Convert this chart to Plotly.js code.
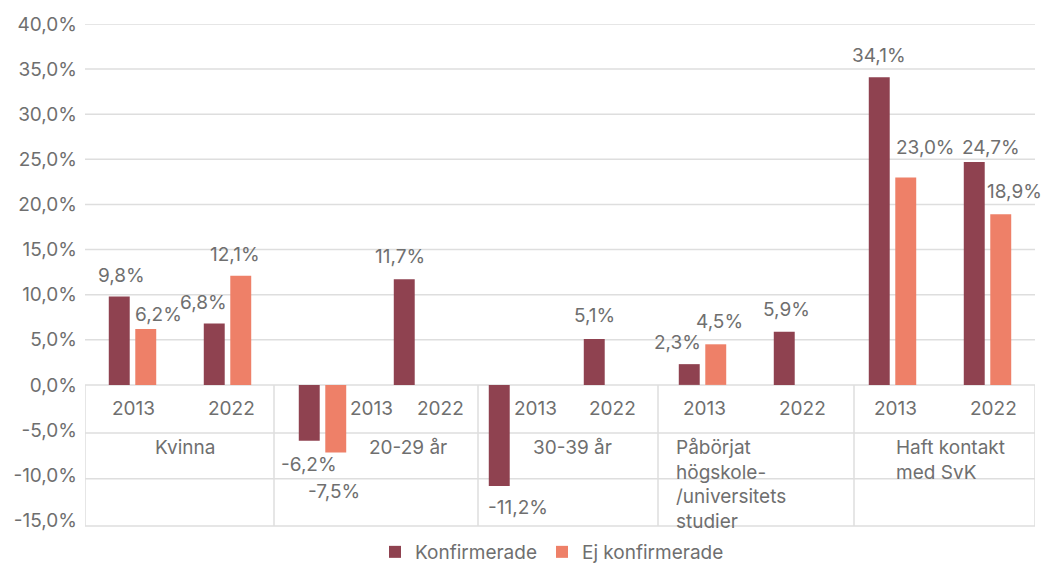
<!DOCTYPE html>
<html>
<head>
<meta charset="utf-8">
<script src="https://cdn.plot.ly/plotly-3.0.1.min.js"></script>
<style>html,body{margin:0;padding:0;background:#fff;}#chart{width:1047px;height:571px;}</style>
</head>
<body>
<div id="chart"></div>
<script>
// ---- data ----
const categories = ['Kvinna', '20-29 år', '30-39 år', 'Påbörjat<br>högskole-<br>/universitets<br>studier', 'Haft kontakt<br>med SvK'];
const years = ['2013', '2022'];
const konfirmerade = [9.8, 6.8, -6.2, 11.7, -11.2, 5.1, 2.3, 5.9, 34.1, 24.7];
const ejKonfirmerade = [6.2, 12.1, -7.5, null, null, null, 4.5, null, 23.0, 18.9];
const seriesNames = ['Konfirmerade', 'Ej konfirmerade'];
const yTicks = [-15, -10, -5, 0, 5, 10, 15, 20, 25, 30, 35, 40];

// ---- style / placement ----
const colors = ['#8F4250', '#EE8068'];
const textColor = '#6f6f6f';
const gridColor = '#dedede';
const FONT = 'Inter, "Open Sans", sans-serif';
const FS = 19;
const yMin = -15.75, yMax = 40;
const pxPerUnitX = 95;
// label nudges (pixels, screen coordinates: dx right, dy down) relative to bar end
const labelNudge = [
  [[2.5,-21],[-10.5,-21],[0,24],[-4,-23],[19,22],[0,-23],[-12,-22],[2,-22],[0,-22],[16.5,-15]],
  [[13,-14],[-6,-21],[-2,39],null,null,null,[3.5,-22.7],null,[20,-30],[14,-22.6]]
];
const yearShift = [1, 4, 49, 23, 23, 5, 2, 5, 3, 6];
const catPlace = [
  {anchor:'center', dx:5}, {anchor:'center', dx:38}, {anchor:'center', dx:12},
  {anchor:'left', dx:-76}, {anchor:'left', dx:-46}
];
const dividerNudgePx = [0, -1, 13, 3, 9, 0];
const tableRowY = [-5.32, -10.4, -15.63];

// ---- build ----
const keys = [];
categories.forEach(c => years.forEach(y => keys.push(c.replace(/<br>/g,' ') + ' ' + y)));
const series = [konfirmerade, ejKonfirmerade];

const fmt = v => (v < 0 ? '-' : '') + Math.abs(v).toFixed(1).replace('.', ',') + '%';

const traces = series.map((vals, s) => ({
  type: 'bar', name: seriesNames[s], x: keys, y: vals,
  marker: {color: colors[s], line: {width: 0}},
  hoverinfo: 'skip'
}));

const shapes = [];
// gridlines for non-negative ticks
yTicks.filter(v => v >= 0).forEach(v => shapes.push({
  type:'line', xref:'paper', x0:0, x1:1, yref:'y', y0:v, y1:v,
  line:{color:gridColor, width:1.5}, layer:'below'
}));
// table rows
tableRowY.forEach(v => shapes.push({
  type:'line', xref:'paper', x0:0, x1:1, yref:'y', y0:v, y1:v,
  line:{color:gridColor, width:1.5}, layer:'below'
}));
// table dividers
for (let k = 0; k <= categories.length; k++) {
  const xv = k * years.length - 0.5 + dividerNudgePx[k] / pxPerUnitX;
  shapes.push({type:'line', xref:'x', x0:xv, x1:xv, yref:'y', y0:0, y1:tableRowY[2],
    line:{color:gridColor, width:1.5}, layer:'below'});
}

const annotations = [];
// data labels
series.forEach((vals, s) => vals.forEach((v, i) => {
  if (v === null) return;
  const n = labelNudge[s][i] || [0, v >= 0 ? -22 : 22];
  const barOff = s === 0 ? -13.25 : 13.25;
  annotations.push({
    x: keys[i], y: v, xref:'x', yref:'y', text: fmt(v), showarrow:false,
    xanchor:'center', yanchor:'middle', xshift: barOff + n[0], yshift: -n[1],
    font:{family:FONT, size:FS, color:textColor}
  });
}));
// year labels
keys.forEach((k, i) => annotations.push({
  x: k, y: 0, xref:'x', yref:'y', text: years[i % years.length], showarrow:false,
  xanchor:'center', yanchor:'middle', xshift: yearShift[i], yshift: -23.5,
  font:{family:FONT, size:FS, color:textColor}
}));
// category labels
categories.forEach((c, k) => annotations.push({
  x: k * years.length + 0.5, y: 0, xref:'x', yref:'y', text: c, showarrow:false,
  xanchor: catPlace[k].anchor, yanchor:'top', align:'left',
  xshift: catPlace[k].dx, yshift: -49,
  font:{family:FONT, size:FS, color:textColor}
}));

const layout = {
  width:1047, height:571,
  margin:{l:85, r:12, t:24, b:44, pad:0, autoexpand:false},
  paper_bgcolor:'#ffffff', plot_bgcolor:'#ffffff',
  separators: ', ',
  barmode:'group', bargap:0.442, bargroupgap:0.21,
  font:{family:FONT, size:FS, color:textColor},
  xaxis:{type:'category', range:[-0.5, keys.length - 0.5], showticklabels:false,
    showgrid:false, zeroline:false, showline:false, ticks:'', fixedrange:true},
  yaxis:{range:[yMin, yMax], tickmode:'array', tickvals:yTicks, ticktext:yTicks.map(fmt),
    showgrid:false, zeroline:false, showline:false, ticks:'', ticklabelstandoff:7,
    tickfont:{family:FONT, size:FS, color:textColor}, fixedrange:true, automargin:false},
  showlegend:true,
  legend:{orientation:'h', x:0.4916, xanchor:'center', yref:'container', y:0, yanchor:'bottom',
    font:{family:FONT, size:FS, color:textColor}, itemwidth:30, traceorder:'normal',
    bgcolor:'rgba(0,0,0,0)'},
  shapes: shapes,
  annotations: annotations
};

Plotly.newPlot('chart', traces, layout, {displayModeBar:false, staticPlot:true});
</script>
</body>
</html>
